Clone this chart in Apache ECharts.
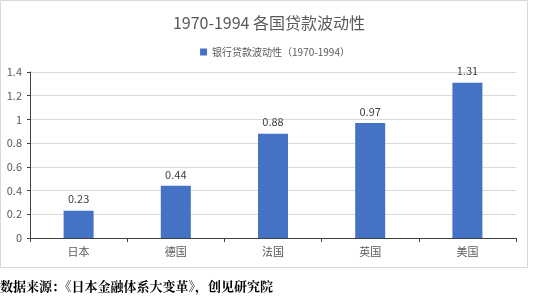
<!DOCTYPE html>
<html><head><meta charset="utf-8">
<script src="https://cdn.jsdelivr.net/npm/echarts@6/dist/echarts.min.js"></script>
<style>html,body{margin:0;padding:0;background:#fff}#c{width:550px;height:307px}</style>
</head><body><div id="c"></div>
<script>
const categories = ['日本','德国','法国','英国','美国'];
const values = [0.23, 0.44, 0.88, 0.97, 1.31];
const seriesName = '银行贷款波动性（1970-1994）';
const titleText = '1970-1994 各国贷款波动性';
const sourceText = '数据来源：《日本金融体系大变革》，创见研究院';

const chart = echarts.init(document.getElementById('c'), null, {renderer:'canvas'});
const font = 'Microsoft YaHei, "Noto Sans CJK SC", sans-serif';
chart.setOption({
  animation:false,
  backgroundColor:'#fff',
  title:{text:titleText,left:264,textAlign:'center',top:10,
    textStyle:{fontSize:16,fontWeight:'normal',color:'#595959',fontFamily:font}},
  legend:{data:[seriesName],top:42,left:'center',itemWidth:7,itemHeight:7,itemGap:4,
    icon:'rect',textStyle:{fontSize:10,color:'#595959',fontFamily:font}},
  grid:{left:30,right:34,top:72,bottom:69,containLabel:false},
  xAxis:{type:'category',data:categories,
    axisLine:{lineStyle:{color:'#404040',width:1}},
    axisTick:{show:true,alignWithLabel:false,length:4,lineStyle:{color:'#404040'}},
    axisLabel:{fontSize:11,color:'#595959',margin:8,fontFamily:font}},
  yAxis:{type:'value',min:0,max:1.4,interval:0.2,
    axisLine:{show:true,lineStyle:{color:'#404040'}},
    axisTick:{show:true,length:3,lineStyle:{color:'#404040'}},
    splitLine:{lineStyle:{color:'#d9d9d9'}},
    axisLabel:{fontSize:11,color:'#595959',margin:8,fontFamily:font,
      formatter:v=>String(Math.round(v*10)/10)}},
  series:[{name:seriesName,type:'bar',data:values,barWidth:30,
    itemStyle:{color:'#4472C4'},
    label:{show:true,position:'top',distance:6,fontSize:11,color:'#404040',fontFamily:font,
      formatter:p=>p.value.toFixed(2)}}],
  graphic:[
    {type:'rect',shape:{x:0.5,y:0.5,width:527,height:267},
      style:{fill:'none',stroke:'#d9d9d9',lineWidth:1},silent:true,z:-1},
    {type:'text',left:0,top:280,
      style:{text:sourceText,font:'bold 13px "Noto Serif CJK SC", SimSun, serif',fill:'#000'}}
  ]
});
</script></body></html>
